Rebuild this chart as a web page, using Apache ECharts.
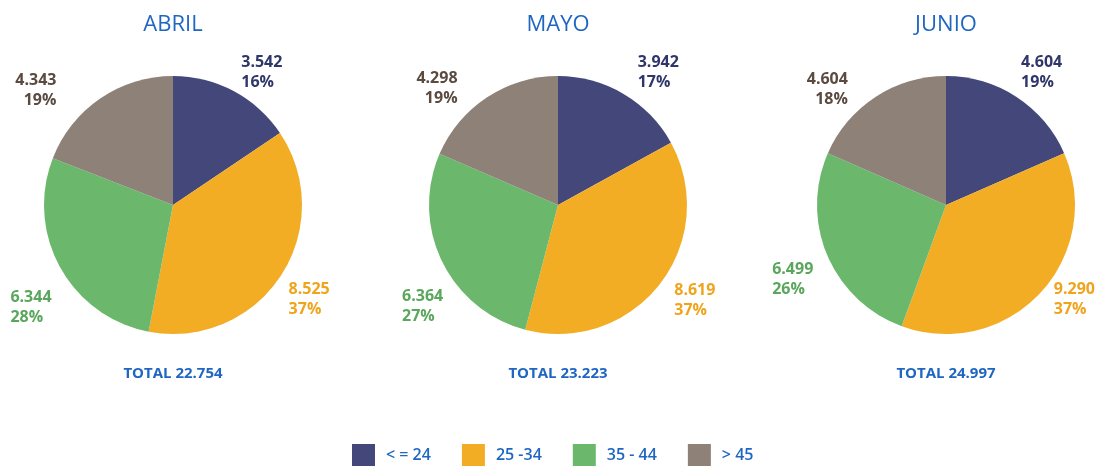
<!DOCTYPE html>
<html>
<head>
<meta charset="utf-8">
<script src="https://cdn.jsdelivr.net/npm/echarts@6/dist/echarts.min.js"></script>
<style>
  html, body { margin: 0; padding: 0; background: #fff; }
  #chart { width: 1106px; height: 466px; }
</style>
</head>
<body>
<div id="chart"></div>
<script>
// datos por mes (afiliados por tramo de edad)
const months = ['ABRIL', 'MAYO', 'JUNIO']
const ageGroups = ['< = 24', '25 -34', '35 - 44', '> 45']
const abril = [3542, 8525, 6344, 4343]
const mayo = [3942, 8619, 6364, 4298]
const junio = [4604, 9290, 6499, 4604]
// porcentajes tal como vienen impresos
const abrilPct = [16, 37, 28, 19]
const mayoPct = [17, 37, 27, 19]
const junioPct = [19, 37, 26, 18]
const totals = [22754, 23223, 24997]

const values = [abril, mayo, junio]
const pcts = [abrilPct, mayoPct, junioPct]

const sliceColors = ['#44477a', '#f3ad25', '#6bb86d', '#8d8178']
const labelColors = ['#2f376a', '#f0a41c', '#5aa65c', '#5a4a40']
const centersX = [173, 558, 946]
const centerY = 205
const blue = '#1f66c2'
const font = "'Open Sans', sans-serif"
// ajuste fino de etiquetas respecto a la posicion por defecto [dx, dy]
const labelNudge = [
  [[-7, -8], [-11, 17], [11, 34], [-28, 2]],
  [[-1, -11], [-4, 9], [21, 40], [-14, 1]],
  [[-11, -15], [-4, -2], [6, 19], [-12, 2]]
]

// separador de miles con punto
function fmt(v) {
  return String(v).replace(/\B(?=(\d{3})+(?!\d))/g, '.')
}

const chart = echarts.init(document.getElementById('chart'))

const titles = []
const series = []
months.forEach((m, k) => {
  titles.push({
    text: m,
    left: centersX[k],
    top: 14,
    padding: 0,
    textAlign: 'center',
    textStyle: { color: blue, fontFamily: font, fontWeight: 'normal', fontSize: 22 }
  })
  titles.push({
    text: 'TOTAL ' + fmt(totals[k]),
    left: centersX[k],
    top: 366,
    padding: 0,
    textAlign: 'center',
    textStyle: { color: blue, fontFamily: font, fontWeight: 'bold', fontSize: 15 }
  })
  series.push({
    type: 'pie',
    name: m,
    center: [centersX[k], centerY],
    radius: 129,
    startAngle: 90,
    clockwise: true,
    avoidLabelOverlap: false,
    emphasis: { disabled: true },
    label: {
      show: true,
      position: 'outside',
      fontFamily: font,
      fontWeight: 'bold',
      fontSize: 16,
      lineHeight: 20,
      formatter: p => fmt(p.value) + '\n' + p.data.pct + '%'
    },
    labelLine: { show: false, length: 12, length2: 4 },
    labelLayout: params => {
      const r = params.labelRect
      const n = labelNudge[params.seriesIndex][params.dataIndex]
      const right = params.dataIndex === 3
      return {
        x: (right ? r.x + r.width : r.x) + n[0],
        y: r.y + n[1],
        align: right ? 'right' : 'left',
        verticalAlign: 'top'
      }
    },
    data: ageGroups.map((g, i) => ({
      name: g,
      value: values[k][i],
      pct: pcts[k][i],
      itemStyle: { color: sliceColors[i] },
      label: { color: labelColors[i] }
    }))
  })
})

chart.setOption({
  backgroundColor: '#fff',
  animation: false,
  title: titles,
  legend: {
    data: ageGroups,
    left: 352,
    top: 444,
    icon: 'rect',
    itemWidth: 23,
    itemHeight: 22,
    itemGap: 31,
    padding: 0,
    selectedMode: false,
    // el tercer tramo deja algo mas de aire antes del ultimo
    formatter: name => name === ageGroups[2] ? '{wide|' + name + '}' : name,
    textStyle: {
      color: blue, fontFamily: font, fontWeight: 600, fontSize: 16, padding: [0, 0, 0, 6],
      rich: {
        wide: { color: blue, fontFamily: font, fontWeight: 600, fontSize: 16, padding: [0, 11, 0, 0] }
      }
    }
  },
  series: series
})
</script>
</body>
</html>
